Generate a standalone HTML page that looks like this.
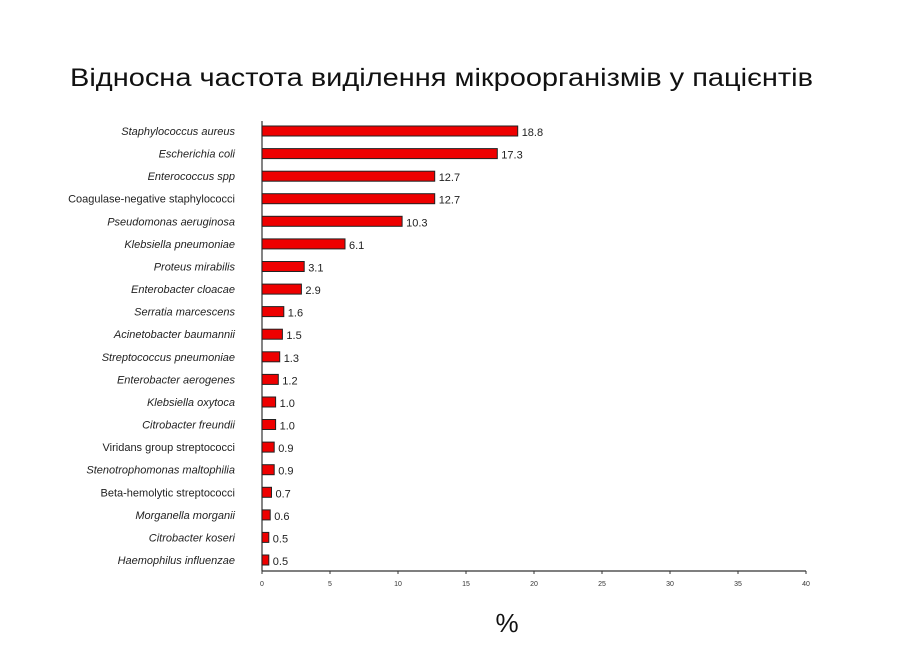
<!DOCTYPE html>
<html><head><meta charset="utf-8"><style>body{margin:0;background:#fff}</style></head><body>
<svg width="898" height="643" xmlns="http://www.w3.org/2000/svg" font-family="Liberation Sans, sans-serif">
<text x="70" y="86" font-size="25" textLength="743" lengthAdjust="spacingAndGlyphs" fill="#111">Відносна частота виділення мікроорганізмів у пацієнтів</text>
<line x1="262" y1="121" x2="262" y2="571" stroke="#333" stroke-width="1.2"/>
<line x1="262" y1="571" x2="806" y2="571" stroke="#333" stroke-width="1.2"/>
<g font-size="7" fill="#333" text-anchor="middle">
<text x="262" y="586">0</text><text x="330" y="586">5</text><text x="398" y="586">10</text><text x="466" y="586">15</text><text x="534" y="586">20</text><text x="602" y="586">25</text><text x="670" y="586">30</text><text x="738" y="586">35</text><text x="806" y="586">40</text>
</g>
<g stroke="#333">
<line x1="262" y1="571" x2="262" y2="574"/><line x1="330" y1="571" x2="330" y2="574"/><line x1="398" y1="571" x2="398" y2="574"/><line x1="466" y1="571" x2="466" y2="574"/><line x1="534" y1="571" x2="534" y2="574"/><line x1="602" y1="571" x2="602" y2="574"/><line x1="670" y1="571" x2="670" y2="574"/><line x1="738" y1="571" x2="738" y2="574"/><line x1="806" y1="571" x2="806" y2="574"/>
</g>
<g fill="#ee0000" stroke="#222" stroke-width="1">
<rect x="262" y="126" width="255.7" height="10"/>
<rect x="262" y="148.6" width="235.3" height="10"/>
<rect x="262" y="171.2" width="172.7" height="10"/>
<rect x="262" y="193.7" width="172.7" height="10"/>
<rect x="262" y="216.3" width="140.1" height="10"/>
<rect x="262" y="238.9" width="83" height="10"/>
<rect x="262" y="261.5" width="42.2" height="10"/>
<rect x="262" y="284.1" width="39.4" height="10"/>
<rect x="262" y="306.6" width="21.8" height="10"/>
<rect x="262" y="329.2" width="20.4" height="10"/>
<rect x="262" y="351.8" width="17.7" height="10"/>
<rect x="262" y="374.4" width="16.3" height="10"/>
<rect x="262" y="397" width="13.6" height="10"/>
<rect x="262" y="419.5" width="13.6" height="10"/>
<rect x="262" y="442.1" width="12.2" height="10"/>
<rect x="262" y="464.7" width="12.2" height="10"/>
<rect x="262" y="487.3" width="9.5" height="10"/>
<rect x="262" y="509.9" width="8.2" height="10"/>
<rect x="262" y="532.4" width="6.8" height="10"/>
<rect x="262" y="555" width="6.8" height="10"/>
</g>
<g font-size="11" fill="#222" text-anchor="end" font-style="italic">
<text x="235" y="135">Staphylococcus aureus</text>
<text x="235" y="157.6">Escherichia coli</text>
<text x="235" y="180.2">Enterococcus spp</text>
<text x="235" y="202.7" font-style="normal">Coagulase-negative staphylococci</text>
<text x="235" y="225.3">Pseudomonas aeruginosa</text>
<text x="235" y="247.9">Klebsiella pneumoniae</text>
<text x="235" y="270.5">Proteus mirabilis</text>
<text x="235" y="293.1">Enterobacter cloacae</text>
<text x="235" y="315.6">Serratia marcescens</text>
<text x="235" y="338.2">Acinetobacter baumannii</text>
<text x="235" y="360.8">Streptococcus pneumoniae</text>
<text x="235" y="383.4">Enterobacter aerogenes</text>
<text x="235" y="406">Klebsiella oxytoca</text>
<text x="235" y="428.5">Citrobacter freundii</text>
<text x="235" y="451.1" font-style="normal">Viridans group streptococci</text>
<text x="235" y="473.7">Stenotrophomonas maltophilia</text>
<text x="235" y="496.3" font-style="normal">Beta-hemolytic streptococci</text>
<text x="235" y="518.9">Morganella morganii</text>
<text x="235" y="541.4">Citrobacter koseri</text>
<text x="235" y="564">Haemophilus influenzae</text>
</g>
<g font-size="11" fill="#222">
<text x="521.7" y="136">18.8</text>
<text x="501.3" y="158.6">17.3</text>
<text x="438.7" y="181.2">12.7</text>
<text x="438.7" y="203.7">12.7</text>
<text x="406.1" y="226.3">10.3</text>
<text x="349" y="248.9">6.1</text>
<text x="308.2" y="271.5">3.1</text>
<text x="305.4" y="294.1">2.9</text>
<text x="287.8" y="316.6">1.6</text>
<text x="286.4" y="339.2">1.5</text>
<text x="283.7" y="361.8">1.3</text>
<text x="282.3" y="384.4">1.2</text>
<text x="279.6" y="407">1.0</text>
<text x="279.6" y="429.5">1.0</text>
<text x="278.2" y="452.1">0.9</text>
<text x="278.2" y="474.7">0.9</text>
<text x="275.5" y="497.3">0.7</text>
<text x="274.2" y="519.9">0.6</text>
<text x="272.8" y="542.4">0.5</text>
<text x="272.8" y="565">0.5</text>
</g>
<text x="507" y="632" font-size="26" text-anchor="middle" fill="#111">%</text>
</svg>
</body></html>
